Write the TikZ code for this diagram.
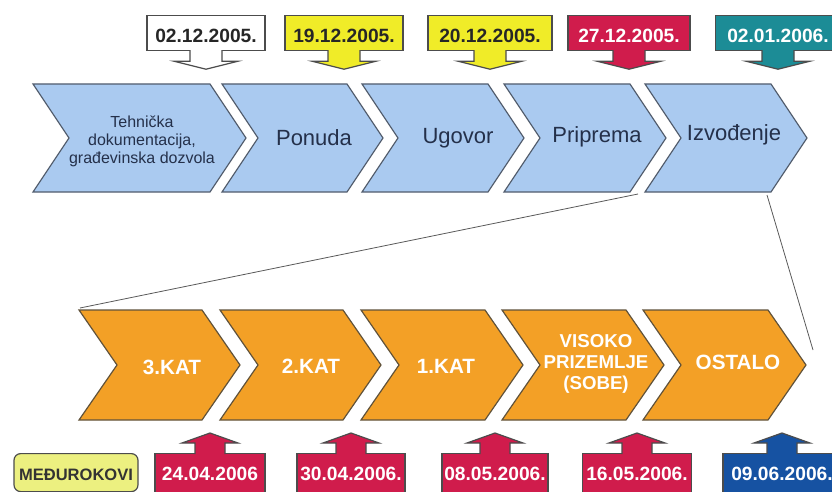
\documentclass[tikz,border=0pt]{standalone}
\usepackage{fontspec}
\setmainfont{Liberation Sans}
\usetikzlibrary{calc}

\definecolor{phasefill}{RGB}{170,202,240}
\definecolor{phaseedge}{RGB}{82,92,108}
\definecolor{phasetext}{RGB}{36,48,74}
\definecolor{katfill}{RGB}{243,160,38}
\definecolor{katedge}{RGB}{96,82,58}
\definecolor{dateyellow}{RGB}{240,236,40}
\definecolor{datered}{RGB}{208,28,76}
\definecolor{dateteal}{RGB}{28,140,150}
\definecolor{dateblue}{RGB}{22,82,162}
\definecolor{notepale}{RGB}{236,240,128}

\tikzset{every picture/.style={line width=0.75pt}}
\tikzset{
  phase/.style={draw=phaseedge, fill=phasefill, line width=0.9pt},
  kat/.style={draw=katedge, fill=katfill, line width=0.9pt},
  phaselabel/.style={text=phasetext, inner sep=0.75pt, font=\fontsize{16.5}{19}\selectfont},
  katlabel/.style={text=white, inner sep=0.75pt, font=\bfseries\fontsize{15.5}{18}\selectfont},
  datebox/.style={draw=black!70, line width=0.9pt, anchor=north, inner xsep=0pt, inner ysep=0pt, font=\bfseries\fontsize{14.4}{16}\selectfont},
  topdate/.style={datebox, text height=20.25pt, text depth=6pt},
  botdate/.style={datebox, text height=20.25pt, text depth=15pt},
  tipline/.style={draw=black!70, line width=0.9pt},
  zoomline/.style={draw=black!65, line width=0.6pt},
}

\begin{document}
\begin{tikzpicture}[x=0.75pt,y=0.75pt,yscale=-1,xscale=1]
\clip (0,0) rectangle (832,492);

%Shape: Chevron [id:tehnicka]
\draw [phase] (33,84) -- (210,84) -- (246,138) -- (210,192) -- (33,192) -- (69,138) -- cycle ;
%Shape: Chevron [id:ponuda]
\draw [phase] (222,84) -- (347,84) -- (383,138) -- (347,192) -- (222,192) -- (258,138) -- cycle ;
%Shape: Chevron [id:ugovor]
\draw [phase] (362,84) -- (488,84) -- (524,138) -- (488,192) -- (362,192) -- (398,138) -- cycle ;
%Shape: Chevron [id:priprema]
\draw [phase] (504,84) -- (630,84) -- (666,138) -- (630,192) -- (504,192) -- (540,138) -- cycle ;
%Shape: Chevron [id:izvodenje]
\draw [phase] (645,84) -- (771,84) -- (807,138) -- (771,192) -- (645,192) -- (681,138) -- cycle ;

%Shape: Chevron [id:kat3]
\draw [kat] (79,310) -- (202,310) -- (240,365) -- (202,420) -- (79,420) -- (117,365) -- cycle ;
%Shape: Chevron [id:kat2]
\draw [kat] (220,310) -- (343,310) -- (381,365) -- (343,420) -- (220,420) -- (258,365) -- cycle ;
%Shape: Chevron [id:kat1]
\draw [kat] (361,310) -- (485,310) -- (523,365) -- (485,420) -- (361,420) -- (399,365) -- cycle ;
%Shape: Chevron [id:prizemlje]
\draw [kat] (502,310) -- (626,310) -- (664,365) -- (626,420) -- (502,420) -- (540,365) -- cycle ;
%Shape: Chevron [id:ostalo]
\draw [kat] (643,310) -- (768,310) -- (806,365) -- (768,420) -- (643,420) -- (681,365) -- cycle ;

% Zoom ends
\coordinate (izvL) at (638,194);
\coordinate (izvR) at (767,195);
\coordinate (katL) at (80,308);
\coordinate (katR) at (813,350);
%Straight Lines [id:zoomleft]
\draw [zoomline] (izvL) -- (katL) ;
%Straight Lines [id:zoomright]
\draw [zoomline] (izvR) -- (katR) ;

% Text Node
\node [phaselabel, align=center, font=\fontsize{12}{13.5}\selectfont] (tehnicka) at (142,141) {Tehnička\\dokumentacija,\\građevinska dozvola};
% Text Node
\node [phaselabel] (ponuda) at (314,138) {Ponuda};
% Text Node
\node [phaselabel] (ugovor) at (458,138) {Ugovor};
% Text Node
\node [phaselabel] (priprema) at (597,137) {Priprema};
% Text Node
\node [phaselabel] (izvodenje) at (734,135) {Izvođenje};

% Text Node
\node [katlabel] (kat3) at (172,367) {3.KAT};
% Text Node
\node [katlabel] (kat2) at (311,366) {2.KAT};
% Text Node
\node [katlabel] (kat1) at (446,366) {1.KAT};
% Text Node
\node [katlabel, align=center, font=\bfseries\fontsize{14}{16}\selectfont] (prizemlje) at (596,364) {VISOKO\\PRIZEMLJE\\(SOBE)};
% Text Node
\node [katlabel] (ostalo) at (738,362) {OSTALO};

% Date callouts, top row
\node [topdate, fill=white, text=black!85, minimum width=88.5pt] (d1) at (206,15) {02.12.2005.};
\node [topdate, fill=dateyellow, text=black!85, minimum width=88.5pt] (d2) at (344,15) {19.12.2005.};
\node [topdate, fill=dateyellow, text=black!85, minimum width=93pt] (d3) at (490,15) {20.12.2005.};
\node [topdate, fill=datered, text=white, minimum width=91.5pt] (d4) at (629,15) {27.12.2005.};
\node [topdate, fill=dateteal, text=white, minimum width=94pt] (d5) at (778,15) {02.01.2006.};

%Shape: Down Arrow
\draw [tipline, fill=white] ($(d1.south)+(-16,-1)$) -- ++(0,11) -- ++(-16,0) -- ($(d1.south)+(0,18)$) -- ($(d1.south)+(32,10)$) -- ++(-16,0) -- ++(0,-11) ;
%Shape: Down Arrow
\draw [tipline, fill=dateyellow] ($(d2.south)+(-16,-1)$) -- ++(0,11) -- ++(-16,0) -- ($(d2.south)+(0,18)$) -- ($(d2.south)+(32,10)$) -- ++(-16,0) -- ++(0,-11) ;
%Shape: Down Arrow
\draw [tipline, fill=dateyellow] ($(d3.south)+(-16,-1)$) -- ++(0,11) -- ++(-16,0) -- ($(d3.south)+(0,18)$) -- ($(d3.south)+(32,10)$) -- ++(-16,0) -- ++(0,-11) ;
%Shape: Down Arrow
\draw [tipline, fill=datered] ($(d4.south)+(-16,-1)$) -- ++(0,11) -- ++(-16,0) -- ($(d4.south)+(0,18)$) -- ($(d4.south)+(32,10)$) -- ++(-16,0) -- ++(0,-11) ;
%Shape: Down Arrow
\draw [tipline, fill=dateteal] ($(d5.south)+(-16,-1)$) -- ++(0,11) -- ++(-16,0) -- ($(d5.south)+(0,18)$) -- ($(d5.south)+(32,10)$) -- ++(-16,0) -- ++(0,-11) ;

% Date callouts, bottom row
\node [botdate, fill=notepale, text=black!80, rounded corners=5pt, text depth=8.25pt, font=\bfseries\fontsize{12.4}{14}\selectfont, minimum width=93pt] (medurokovi) at (76,453) {MEĐUROKOVI};
\node [botdate, fill=datered, text=white, minimum width=82.5pt] (r1) at (210,453) {24.04.2006};
\node [botdate, fill=datered, text=white, minimum width=81pt] (r2) at (351,453) {30.04.2006.};
\node [botdate, fill=datered, text=white, minimum width=79.5pt] (r3) at (495,453) {08.05.2006.};
\node [botdate, fill=datered, text=white, minimum width=82pt] (r4) at (637,453) {16.05.2006.};
\node [botdate, fill=dateblue, text=white, minimum width=88.5pt] (r5) at (782,453) {09.06.2006.};

%Shape: Up Arrow
\draw [tipline, fill=datered] ($(r1.north)+(-15,1)$) -- ++(0,-11) -- ++(-13,0) -- ($(r1.north)+(0,-20)$) -- ($(r1.north)+(28,-10)$) -- ++(-13,0) -- ++(0,11) ;
%Shape: Up Arrow
\draw [tipline, fill=datered] ($(r2.north)+(-15,1)$) -- ++(0,-11) -- ++(-13,0) -- ($(r2.north)+(0,-20)$) -- ($(r2.north)+(28,-10)$) -- ++(-13,0) -- ++(0,11) ;
%Shape: Up Arrow
\draw [tipline, fill=datered] ($(r3.north)+(-15,1)$) -- ++(0,-11) -- ++(-13,0) -- ($(r3.north)+(0,-20)$) -- ($(r3.north)+(28,-10)$) -- ++(-13,0) -- ++(0,11) ;
%Shape: Up Arrow
\draw [tipline, fill=datered] ($(r4.north)+(-15,1)$) -- ++(0,-11) -- ++(-13,0) -- ($(r4.north)+(0,-20)$) -- ($(r4.north)+(28,-10)$) -- ++(-13,0) -- ++(0,11) ;
%Shape: Up Arrow
\draw [tipline, fill=dateblue] ($(r5.north)+(-15,1)$) -- ++(0,-11) -- ++(-13,0) -- ($(r5.north)+(0,-20)$) -- ($(r5.north)+(28,-10)$) -- ++(-13,0) -- ++(0,11) ;

\end{tikzpicture}
\end{document}
